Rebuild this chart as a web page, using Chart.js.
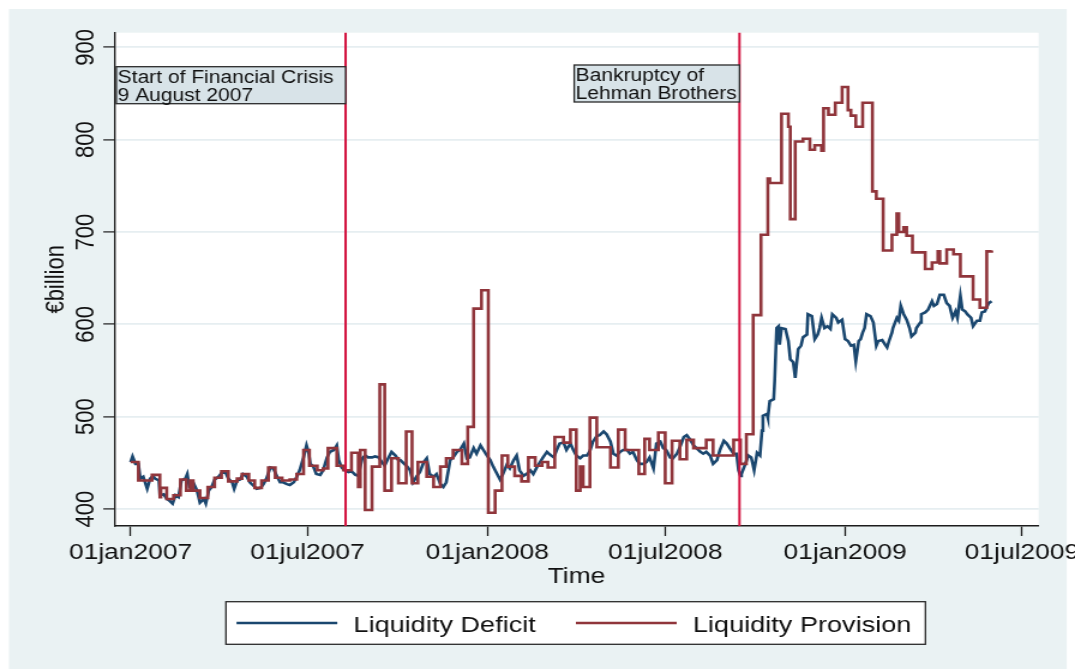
<!DOCTYPE html>
<html>
<head>
<meta charset="utf-8">
<title>Liquidity Deficit and Liquidity Provision</title>
<script src="https://cdn.jsdelivr.net/npm/chart.js@4.4.0/dist/chart.umd.min.js"></script>
<style>
  html, body { margin: 0; padding: 0; background: #ffffff; overflow: hidden; }
  /* the figure is drawn narrow and stretched sideways, like the exported graph */
  #wrap { width: 896px; height: 670px; transform: scaleX(1.19978); transform-origin: 0 0; }
</style>
</head>
<body>
<div id="wrap"><canvas id="liqChart" width="896" height="670"></canvas></div>
<script>
// x values are days counted from 01jan2007
const xTickDays = [0, 181, 365, 547, 731, 912];
const xTickLabels = ["01jan2007", "01jul2007", "01jan2008", "01jul2008", "01jan2009", "01jul2009"];
const yTicks = [400, 500, 600, 700, 800, 900];

// Liquidity Deficit (EUR billion)
const deficitDays = [
  0, 2, 5, 8, 10, 13, 17, 20, 23, 25, 29, 30, 34, 37, 40, 43, 46, 49, 52, 56,
  58, 60, 64, 68, 71, 75, 77, 80, 83, 86, 90, 93, 97, 100, 104, 106, 109, 112, 115, 119,
  122, 126, 129, 133, 136, 139, 143, 146, 150, 153, 156, 160, 163, 167, 170, 173, 177, 180, 182, 184,
  187, 190, 194, 197, 201, 204, 208, 211, 213, 216, 219, 223, 226, 230, 233, 237, 240, 243, 247, 250,
  254, 257, 260, 264, 267, 271, 274,
  276, 279, 283, 286, 289, 293, 296, 300, 303, 306, 310, 313, 317, 320, 323, 327, 330, 334, 337, 341,
  344, 347, 351, 354, 358, 361, 364, 368, 371, 375, 378, 381, 385, 388, 392, 395, 398, 402, 405, 409,
  412, 416, 419, 422, 426, 429, 433, 436, 439, 443, 446, 450, 453, 456, 460, 463, 467, 470, 473, 477,
  480, 484, 487, 491, 494, 497, 501, 504, 508, 511, 514, 518, 521, 525, 528, 531, 535, 538, 542, 545,
  548, 552, 555, 559, 562, 566, 569, 572, 576, 579, 583, 586, 589, 593, 596, 600, 603, 607, 610, 613,
  617, 620, 622, 624, 625, 629, 632, 635, 638, 641, 644, 646, 647, 651, 652, 654, 658, 659, 661, 663,
  664, 666, 670, 673, 675, 678, 680, 683, 686, 688, 692, 693, 697, 700, 703, 705, 707, 710, 713, 716,
  718, 722, 724, 728, 731, 734, 737, 740, 742, 745, 747, 749, 751, 753, 757, 760, 763, 765, 769, 772,
  774, 776, 779, 780, 784, 786, 788, 791, 794, 797, 799, 803, 804, 808, 809, 813, 816, 820, 822, 825,
  828, 832, 835, 838, 841, 844, 846, 849, 851, 854, 856, 860, 862, 866, 869, 871, 874, 878, 881
];
const deficitValues = [
  451, 457, 449, 449, 433, 435, 422, 433, 436, 433, 431, 415, 416, 411, 409, 406, 415, 413, 431, 433,
  438, 425, 429, 420, 407, 411, 406, 420, 424, 432, 435, 439, 440, 433, 429, 422, 431, 432, 438, 435,
  429, 425, 422, 423, 427, 433, 445, 444, 435, 429, 429, 427, 426, 429, 435, 442, 456, 469, 462, 449,
  446, 438, 437, 442, 456, 462, 464, 469, 453, 445, 442, 440, 441, 437, 436, 455, 458, 456, 456, 457,
  456, 451, 447, 456, 462, 458, 453,
  453, 450, 446, 442, 429, 436, 440, 451, 455, 438, 435, 438, 427, 424, 429, 453, 456, 462, 464, 471,
  455, 456, 466, 460, 469, 464, 459, 453, 446, 438, 432, 438, 448, 444, 453, 458, 442, 436, 438, 442,
  438, 446, 451, 456, 462, 459, 456, 464, 471, 472, 464, 471, 464, 458, 455, 458, 458, 463, 473, 479,
  480, 484, 481, 473, 460, 458, 462, 464, 464, 460, 462, 453, 449, 449, 451, 456, 444, 471, 473, 466,
  464, 456, 455, 460, 467, 478, 480, 476, 469, 466, 462, 460, 462, 458, 449, 453, 464, 474, 471, 466,
  460, 460, 442, 436, 438, 449, 458, 456, 442, 461, 458, 485, 501, 503, 499, 517, 519, 539, 596, 598,
  578, 596, 595, 582, 562, 559, 542, 573, 577, 586, 589, 611, 609, 584, 589, 596, 607, 596, 598, 595,
  611, 607, 602, 605, 584, 582, 577, 578, 560, 582, 584, 591, 596, 611, 609, 602, 577, 582, 583, 578,
  575, 582, 591, 596, 607, 604, 620, 611, 605, 596, 587, 591, 596, 602, 611, 613, 616, 625, 620, 622,
  632, 632, 623, 620, 607, 614, 607, 631, 616, 614, 611, 607, 598, 604, 604, 613, 614, 623, 625
];

// Liquidity Provision (EUR billion), each value holds until the next day listed
const provisionDays = [
  0, 8, 22, 30, 31, 37, 44, 51, 57, 61, 64, 71, 79, 86, 93, 100, 109, 114, 121, 127,
  134, 141, 148, 155, 163, 170, 177, 183, 191, 197, 202, 211, 218, 226, 233, 235, 240, 247, 255, 260,
  267, 274, 282, 288, 294, 303, 310, 317, 323, 330, 339, 345, 351, 359, 366, 373, 380, 386, 393, 400,
  407, 414, 421, 427, 434, 443, 450, 456, 460, 463, 470, 477, 491, 499, 506, 520, 526, 531, 540, 547,
  554, 562, 569, 576, 589, 596, 617, 624, 630, 637, 645, 652, 654, 666, 673, 675, 680, 688, 695, 700,
  707, 709, 714, 721, 728, 734, 737, 742, 749, 759, 763, 770, 779, 784, 786, 791, 794, 800, 813, 820,
  826, 828, 835, 842, 849, 862, 869, 876, 881
];
const provisionValues = [
  451, 431, 437, 413, 423, 411, 415, 432, 420, 431, 420, 412, 424, 434, 441, 430, 433, 438, 431, 423,
  431, 445, 434, 431, 432, 438, 464, 447, 442, 444, 466, 447, 442, 461, 424, 464, 399, 446, 535, 420,
  455, 428, 484, 428, 451, 435, 424, 446, 455, 464, 449, 489, 617, 637, 396, 420, 458, 446, 436, 430,
  456, 447, 451, 445, 478, 472, 486, 420, 446, 424, 499, 467, 445, 486, 464, 438, 476, 464, 483, 428,
  474, 454, 475, 466, 475, 458, 475, 449, 481, 610, 697, 758, 753, 828, 814, 714, 798, 801, 789, 794,
  788, 834, 827, 840, 857, 832, 826, 814, 840, 744, 736, 680, 697, 720, 700, 705, 696, 678, 660, 667,
  679, 666, 681, 676, 652, 627, 618, 679, 680
];

// events marked with a vertical line and a text box
const eventDays = [220, 623];
const eventLabels = [
  ["Start of Financial Crisis", "9 August 2007"],
  ["Bankruptcy of", "Lehman Brothers"]
];

const FONT = "'Liberation Sans', Arial, Helvetica, sans-serif";
const BG = "#eaf2f3";
const INK = "#1c1c1c";

function toPoints(days, values) {
  return days.map((d, i) => ({ x: d, y: values[i] }));
}

// background, event lines, boxes, rotated y labels, titles and legend
const stataLook = {
  id: "stataLook",
  beforeDraw(chart) {
    const { ctx, chartArea: a, width, height } = chart;
    ctx.save();
    ctx.fillStyle = "#ffffff";
    ctx.fillRect(0, 0, width, height);
    ctx.fillStyle = BG;
    ctx.fillRect(7.5, 9, 881.6, 660);
    ctx.fillStyle = "#ffffff";
    ctx.fillRect(a.left, a.top, a.right - a.left, a.bottom - a.top);
    ctx.restore();
  },
  afterDatasetsDraw(chart) {
    const { ctx, chartArea: a } = chart;
    const xs = chart.scales.x;
    ctx.save();
    ctx.strokeStyle = "#d3123f";
    ctx.lineWidth = 2;
    eventDays.forEach((d) => {
      const px = xs.getPixelForValue(d);
      ctx.beginPath();
      ctx.moveTo(px, a.top);
      ctx.lineTo(px, a.bottom);
      ctx.stroke();
    });

    ctx.font = "17.5px " + FONT;
    ctx.textBaseline = "alphabetic";
    eventLabels.forEach((lines, i) => {
      const right = xs.getPixelForValue(eventDays[i]);
      const textW = Math.max(...lines.map((t) => ctx.measureText(t).width));
      const left = i === 0 ? a.left + 1.6 : right - textW - 3.5;
      const top = i === 0 ? 66.7 : 65;
      ctx.fillStyle = "#d8e3e8";
      ctx.fillRect(left, top, right - left, 37);
      ctx.strokeStyle = "#2a2a2a";
      ctx.lineWidth = 1.3;
      ctx.strokeRect(left, top, right - left, 37);
      ctx.fillStyle = "#111111";
      lines.forEach((t, j) => ctx.fillText(t, left + 1.2, top + 16 + j * 17.8));
    });
    ctx.restore();
  },
  afterDraw(chart) {
    const { ctx, chartArea: a } = chart;
    const ys = chart.scales.y;
    ctx.save();
    ctx.fillStyle = "#111111";

    // rotated y tick labels
    ctx.font = "22px " + FONT;
    ctx.textAlign = "center";
    ctx.textBaseline = "alphabetic";
    yTicks.forEach((v) => {
      ctx.save();
      ctx.translate(77.6, ys.getPixelForValue(v));
      ctx.rotate(-Math.PI / 2);
      ctx.fillText(String(v), 0, 0);
      ctx.restore();
    });

    // axis titles
    ctx.save();
    ctx.translate(52.6, (a.top + a.bottom) / 2);
    ctx.rotate(-Math.PI / 2);
    ctx.fillText("€billion", 0, 0);
    ctx.restore();
    ctx.fillText("Time", (a.left + a.right) / 2, 583.3);

    // legend
    const lx = 188.3, ly = 601.7, lw = 583, lh = 42.6;
    ctx.fillStyle = "#ffffff";
    ctx.fillRect(lx, ly, lw, lh);
    ctx.strokeStyle = "#2a2a2a";
    ctx.lineWidth = 1.3;
    ctx.strokeRect(lx, ly, lw, lh);
    const slots = [197.1, 480];
    ctx.font = "22.6px " + FONT;
    ctx.textAlign = "left";
    chart.data.datasets.forEach((ds, i) => {
      const sx = slots[i];
      ctx.strokeStyle = ds.borderColor;
      ctx.lineWidth = 2.6;
      ctx.beginPath();
      ctx.moveTo(sx, 623);
      ctx.lineTo(sx + 84, 623);
      ctx.stroke();
      ctx.fillStyle = "#111111";
      ctx.fillText(ds.label, sx + 97.5, 631.7);
    });
    ctx.restore();
  }
};

new Chart(document.getElementById("liqChart"), {
  type: "line",
  data: {
    datasets: [
      {
        label: "Liquidity Deficit",
        data: toPoints(deficitDays, deficitValues),
        borderColor: "#1a476f",
        borderWidth: 2.6,
        pointRadius: 0,
        tension: 0,
        order: 1
      },
      {
        label: "Liquidity Provision",
        data: toPoints(provisionDays, provisionValues),
        borderColor: "#90353b",
        borderWidth: 2.6,
        pointRadius: 0,
        stepped: true,
        order: 0
      }
    ]
  },
  options: {
    responsive: false,
    devicePixelRatio: 1,
    animation: false,
    events: [],
    layout: { padding: { top: 32.7, right: 30.3, left: 0, bottom: 0 } },
    plugins: { legend: { display: false }, tooltip: { enabled: false } },
    scales: {
      x: {
        type: "linear",
        min: -16.6,
        max: 929.1,
        afterBuildTicks(scale) {
          scale.ticks = xTickDays.map((v) => ({ value: v }));
        },
        afterFit(scale) {
          scale.height = 144;
          scale.paddingLeft = 0;
          scale.paddingRight = 0;
        },
        grid: {
          drawOnChartArea: false,
          tickLength: 10,
          tickColor: INK,
          tickWidth: 1.3
        },
        border: { display: true, color: INK, width: 1.6 },
        ticks: {
          autoSkip: false,
          maxRotation: 0,
          padding: 4,
          color: "#111111",
          font: { family: FONT, size: 22 },
          callback: (value, index) => xTickLabels[index]
        }
      },
      y: {
        type: "linear",
        min: 381.7,
        max: 915.8,
        afterBuildTicks(scale) {
          scale.ticks = yTicks.map((v) => ({ value: v }));
        },
        afterFit(scale) {
          scale.width = 95.3;
          scale.paddingTop = 0;
          scale.paddingBottom = 0;
        },
        grid: {
          color: "#e6eef1",
          lineWidth: 1.8,
          tickLength: 9.2,
          tickColor: INK,
          tickWidth: 1.2
        },
        border: { display: true, color: INK, width: 1.4 },
        ticks: { display: false }
      }
    }
  },
  plugins: [stataLook]
});
</script>
</body>
</html>
